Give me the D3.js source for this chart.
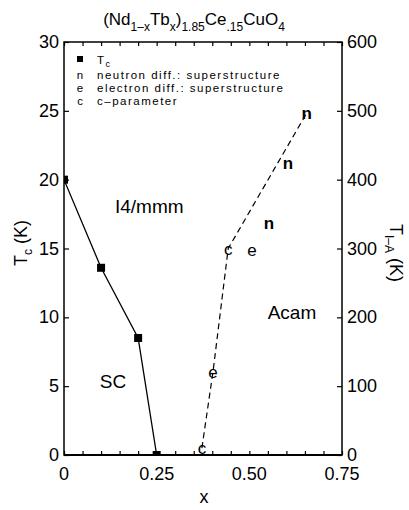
<!DOCTYPE html>
<html>
<head>
<meta charset="utf-8">
<script src="https://cdn.jsdelivr.net/npm/d3@7"></script>
<style>
  body { margin: 0; background: #fff; }
  svg { font-family: "Liberation Sans", Arial, sans-serif; }
</style>
</head>
<body>
<div id="chart"></div>
<script>
const width = 409;
const height = 510;

// data
const tcX = [0, 0.1, 0.2, 0.25];
const tcY = [20, 13.6, 8.5, 0];

const boundaryX = [0.372, 0.402, 0.443, 0.655];
const boundaryT = [10, 121, 300, 497];

const neutronPts = [[0.655, 497], [0.604, 424], [0.553, 337]];
const electronPts = [[0.507, 298], [0.402, 121]];
const cParamPts = [[0.443, 300], [0.372, 10]];

const xTicks = [0, 0.25, 0.5, 0.75];
const xTickLabels = ["0", "0.25", "0.50", "0.75"];
const yLeftTicks = [0, 5, 10, 15, 20, 25, 30];
const yRightTicks = [0, 100, 200, 300, 400, 500, 600];

const legendItems = [
  { sym: "sq", label: "T", sub: "c" },
  { sym: "n", label: "neutron diff.: superstructure" },
  { sym: "e", label: "electron diff.: superstructure" },
  { sym: "c", label: "c\u2013parameter" }
];

const margin = { top: 42, right: 67, bottom: 55, left: 64 };

const svg = d3.select("#chart").append("svg")
  .attr("width", width)
  .attr("height", height);

const x = d3.scaleLinear().domain([0, 0.75]).range([margin.left, width - margin.right]);
const yL = d3.scaleLinear().domain([0, 30]).range([height - margin.bottom, margin.top]);
const yR = d3.scaleLinear().domain([0, 600]).range([height - margin.bottom, margin.top]);

svg.append("defs").append("clipPath").attr("id", "plot")
  .append("rect")
  .attr("x", x(0)).attr("y", yL(30))
  .attr("width", x(0.75) - x(0)).attr("height", yL(0) - yL(30));

// axes (ticks inward)
const axBottom = svg.append("g")
  .attr("transform", `translate(0,${yL(0)})`)
  .call(d3.axisBottom(x).tickValues(d3.range(0, 0.751, 0.05)).tickSize(-4).tickFormat(""));
const axTop = svg.append("g")
  .attr("transform", `translate(0,${yL(30)})`)
  .call(d3.axisTop(x).tickValues(d3.range(0, 0.751, 0.05)).tickSize(-4).tickFormat(""));
const axLeft = svg.append("g")
  .attr("transform", `translate(${x(0)},0)`)
  .call(d3.axisLeft(yL).tickValues(yLeftTicks).tickSize(-5).tickFormat(""));
const axRight = svg.append("g")
  .attr("transform", `translate(${x(0.75)},0)`)
  .call(d3.axisRight(yR).tickValues(yRightTicks).tickSize(-5).tickFormat(""));

[axBottom, axTop, axLeft, axRight].forEach(g => {
  g.select(".domain").remove();
  g.selectAll("line").attr("stroke", "#000").attr("stroke-width", 1.2);
});

// frame
svg.append("rect")
  .attr("x", x(0)).attr("y", yL(30))
  .attr("width", x(0.75) - x(0)).attr("height", yL(0) - yL(30))
  .attr("fill", "none").attr("stroke", "#000").attr("stroke-width", 1.5);
svg.append("line")
  .attr("x1", x(0)).attr("x2", x(0.75))
  .attr("y1", yL(0)).attr("y2", yL(0))
  .attr("stroke", "#000").attr("stroke-width", 2.2);

// tick labels
svg.selectAll(".xl").data(xTicks).enter().append("text")
  .attr("x", d => x(d)).attr("y", yL(0) + 25)
  .attr("text-anchor", "middle")
  .style("font-size", "18px")
  .text((d, i) => xTickLabels[i]);

svg.selectAll(".yl").data(yLeftTicks).enter().append("text")
  .attr("x", x(0) - 5).attr("y", d => yL(d) + 6)
  .attr("text-anchor", "end")
  .style("font-size", "18px")
  .text(d => d);

svg.selectAll(".yr").data(yRightTicks).enter().append("text")
  .attr("x", x(0.75) + 5).attr("y", d => yR(d) + 6)
  .attr("text-anchor", "start")
  .style("font-size", "18px")
  .text(d => d);

// axis titles
svg.append("text")
  .attr("x", 204).attr("y", 503)
  .attr("text-anchor", "middle")
  .style("font-size", "18px")
  .text("x");

const lt = svg.append("text")
  .attr("transform", `translate(27,243) rotate(-90)`)
  .attr("text-anchor", "middle")
  .style("font-size", "18px");
lt.append("tspan").text("T");
lt.append("tspan").attr("dy", 5).style("font-size", "12px").text("c");
lt.append("tspan").attr("dy", -5).text(" (K)");

const rt = svg.append("text")
  .attr("transform", `translate(390,253) rotate(90)`)
  .attr("text-anchor", "middle")
  .style("font-size", "18px");
rt.append("tspan").text("T");
rt.append("tspan").attr("dy", 5).style("font-size", "12px").text("I\u2013A");
rt.append("tspan").attr("dy", -5).text(" (K)");

// title
const title = svg.append("text")
  .attr("x", 194).attr("y", 25)
  .attr("text-anchor", "middle")
  .style("font-size", "17px");
const titleParts = [
  ["(Nd", 0], ["1\u2013x", 1], ["Tb", 0], ["x", 1], [")", 0], ["1.85", 1],
  ["Ce", 0], [".15", 1], ["CuO", 0], ["4", 1]
];
let prev = 0;
titleParts.forEach(([t, s]) => {
  title.append("tspan")
    .attr("dy", (s - prev) * 6)
    .style("font-size", s ? "12px" : "17px")
    .text(t);
  prev = s;
});

// plot contents
const plot = svg.append("g").attr("clip-path", "url(#plot)");

const tcLine = d3.line().x(d => x(d[0])).y(d => yL(d[1]));
plot.append("path")
  .datum(tcX.map((d, i) => [d, tcY[i]]))
  .attr("d", tcLine)
  .attr("fill", "none").attr("stroke", "#000").attr("stroke-width", 1.3);

plot.selectAll(".tc").data(tcX.map((d, i) => [d, tcY[i]])).enter().append("rect")
  .attr("x", d => x(d[0]) - 4).attr("y", d => yL(d[1]) - 4)
  .attr("width", 8).attr("height", 8)
  .attr("fill", "#000");

const bLine = d3.line().x(d => x(d[0])).y(d => yR(d[1]));
plot.append("path")
  .datum(boundaryX.map((d, i) => [d, boundaryT[i]]))
  .attr("d", bLine)
  .attr("fill", "none").attr("stroke", "#000").attr("stroke-width", 1.2)
  .attr("stroke-dasharray", "6,4");

function letters(pts, ch) {
  svg.selectAll(null).data(pts).enter().append("text")
    .attr("x", d => x(d[0])).attr("y", d => yR(d[1]) + 6)
    .attr("text-anchor", "middle")
    .style("font-size", "17px")
    .style("font-weight", ch === "n" ? "bold" : "normal")
    .text(ch);
}
letters(neutronPts, "n");
letters(electronPts, "e");
letters(cParamPts, "c");

// region labels
[["I4/mmm", 0.23, 18.1], ["Acam", 0.615, 10.4], ["SC", 0.132, 5.4]].forEach(([t, px, py]) => {
  svg.append("text")
    .attr("x", x(px)).attr("y", yL(py) + 7)
    .attr("text-anchor", "middle")
    .style("font-size", "19px")
    .text(t);
});

// legend
const legY = [64, 79, 92, 105];
legendItems.forEach((it, i) => {
  const by = legY[i];
  if (it.sym === "sq") {
    svg.append("rect").attr("x", 77).attr("y", by - 8).attr("width", 6).attr("height", 6).attr("fill", "#000");
  } else {
    svg.append("text").attr("x", 80).attr("y", by)
      .attr("text-anchor", "middle").style("font-size", "11.5px").text(it.sym);
  }
  const t = svg.append("text").attr("x", 97).attr("y", by)
    .style("font-size", "11.5px").style("letter-spacing", "1.5px");
  t.append("tspan").text(it.label);
  if (it.sub) t.append("tspan").attr("dy", 3).style("font-size", "9px").text(it.sub);
});
</script>
</body>
</html>
